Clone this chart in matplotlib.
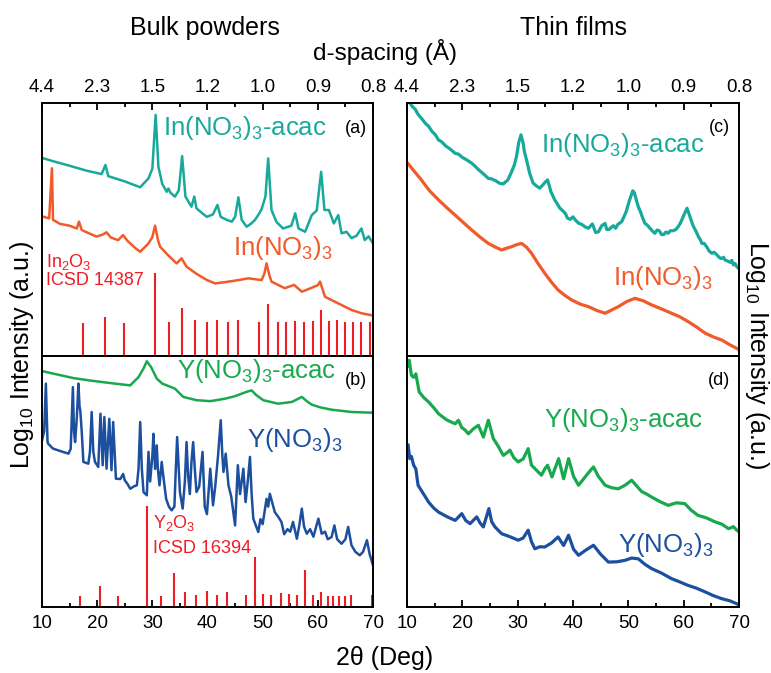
import matplotlib
matplotlib.use('Agg')
import matplotlib.pyplot as plt
from matplotlib.ticker import MultipleLocator, FixedLocator

plt.rcParams['font.family'] = ['Liberation Sans', 'DejaVu Sans']
plt.rcParams['mathtext.fontset'] = 'custom'
plt.rcParams['mathtext.rm'] = 'Liberation Sans'
plt.rcParams['mathtext.it'] = 'Liberation Sans:italic'
plt.rcParams['mathtext.default'] = 'regular'

# ---- data (2theta in deg, intensity in a.u. scaled to each panel) ----
# (a) bulk In(NO3)3-acac
tt_a_acac = [10.0, 12.0, 15.0, 18.0, 20.8, 21.5, 22.0, 25.0, 27.8, 29.3, 30.0, 30.6, 31.1, 31.8,
             32.6, 32.9, 33.3, 34.1, 34.8, 35.4, 36.0, 37.1, 37.6, 38.0, 39.0, 39.9, 41.0, 41.8,
             42.4, 43.5, 44.4, 45.0, 45.6, 46.2, 47.1, 48.0, 48.6, 49.2, 49.8, 50.5, 51.0, 51.6,
             52.5, 53.7, 55.2, 55.9, 56.5, 57.7, 58.9, 59.8, 60.6, 61.2, 62.0, 62.9, 63.7, 64.3,
             65.2, 66.1, 67.0, 67.9, 68.5, 69.2, 70.0]
I_a_acac = [78.3, 77.0, 75.2, 73.3, 71.9, 75.5, 71.1, 69.0, 66.7, 70.2, 74.0, 95.3, 74.8, 68.0,
            64.9, 66.2, 64.5, 63.0, 65.5, 79.0, 63.0, 59.0, 63.0, 58.4, 56.5, 55.0, 56.0, 59.7,
            55.0, 53.8, 53.1, 55.0, 62.7, 53.8, 51.1, 52.5, 53.8, 55.7, 58.0, 63.0, 78.1, 57.7,
            53.0, 50.4, 51.5, 56.4, 50.4, 49.1, 55.7, 57.5, 72.8, 57.7, 57.7, 52.4, 55.7, 48.5,
            49.1, 46.6, 47.5, 50.4, 45.8, 47.3, 44.5]

# (a) bulk In(NO3)3
tt_a_in = [10.0, 11.3, 11.8, 12.0, 13.3, 15.0, 16.3, 16.7, 17.2, 18.5, 19.9, 21.0, 21.7, 22.5,
           23.8, 24.7, 25.5, 27.0, 27.8, 29.3, 30.0, 30.5, 31.0, 31.4, 33.0, 34.4, 35.3, 36.2,
           38.0, 39.9, 41.4, 43.2, 45.6, 47.4, 49.8, 50.3, 50.7, 51.2, 51.6, 54.0, 55.7, 57.1,
           58.7, 60.0, 60.4, 61.3, 63.7, 66.1, 67.9, 70.0]
I_a_in = [55.2, 54.4, 74.2, 53.8, 52.2, 51.5, 50.4, 53.1, 49.8, 48.5, 47.2, 48.0, 48.9, 46.8,
          45.8, 47.8, 45.5, 42.5, 41.2, 44.5, 47.0, 51.5, 46.0, 43.2, 39.5, 36.6, 38.6, 35.3,
          32.5, 30.0, 28.7, 29.2, 30.0, 30.7, 30.0, 32.5, 36.6, 32.0, 29.4, 26.8, 28.1, 25.4,
          26.8, 28.0, 29.4, 23.4, 20.8, 18.2, 16.9, 16.0]

# In2O3 reference, ICSD 14387
tt_in2o3 = [17.5, 21.5, 24.9, 30.5, 33.1, 35.4, 37.7, 39.9, 41.8, 43.8, 45.6, 49.3, 51.0, 52.7,
            54.2, 55.9, 57.5, 59.1, 60.5, 62.1, 63.5, 64.9, 66.4, 67.9, 69.5]
h_in2o3 = [13.2, 15.3, 13.2, 32.7, 13.3, 18.8, 14.2, 13.3, 14.2, 13.3, 14.2, 13.3, 20.4, 13.6,
           13.3, 14.0, 13.3, 14.0, 18.2, 14.0, 14.2, 13.6, 13.6, 13.6, 13.6]

# (b) bulk Y(NO3)3-acac
tt_b_acac = [10.0, 12.0, 15.7, 18.5, 21.7, 24.0, 26.0, 27.5, 28.4, 29.0, 29.8, 30.8, 31.8, 32.6,
             34.1, 35.0, 35.6, 38.0, 40.5, 43.2, 45.0, 46.2, 47.2, 48.0, 48.8, 50.1, 52.8, 55.3,
             56.3, 57.1, 58.0, 58.9, 60.5, 62.5, 66.1, 70.0]
I_b_acac = [94.0, 93.0, 91.2, 90.3, 89.4, 88.8, 88.3, 91.6, 95.0, 97.9, 95.5, 91.0, 89.0, 88.3,
            87.0, 85.0, 83.7, 82.4, 82.0, 83.0, 84.0, 85.0, 85.8, 86.3, 84.5, 82.4, 81.0, 81.7,
            82.8, 83.7, 82.0, 80.6, 79.5, 78.6, 77.7, 77.4]

# (b) bulk Y(NO3)3
tt_b_y = [10.0, 10.4, 10.7, 11.0, 11.1, 12.0, 13.5, 14.8, 15.2, 15.6, 15.8, 16.0, 16.3, 16.6,
          16.8, 16.95, 17.2, 17.5, 18.4, 18.7, 19.0, 19.3, 19.6, 20.2, 20.6, 21.0, 21.3, 21.7,
          22.2, 22.6, 22.9, 23.4, 24.2, 24.7, 25.0, 25.5, 26.0, 26.6, 27.2, 27.5, 27.8, 28.1,
          28.4, 29.0, 29.3, 29.6, 30.0, 30.2, 30.5, 30.8, 31.0, 31.3, 31.7, 32.0, 32.5, 33.0,
          33.5, 34.0, 34.2, 34.5, 34.8, 35.0, 35.5, 35.9, 36.2, 36.5, 36.8, 37.1, 37.4, 37.7,
          38.0, 38.5, 39.1, 39.5, 39.9, 40.5, 41.0, 41.4, 41.9, 42.4, 42.7, 42.9, 43.3, 43.8,
          44.3, 45.0, 45.5, 45.9, 46.5, 46.9, 47.3, 47.7, 48.0, 48.3, 49.2, 49.6, 50.0, 50.7,
          51.0, 51.3, 52.2, 52.8, 53.4, 53.9, 54.5, 55.0, 55.5, 56.2, 56.6, 57.1, 57.5, 58.0,
          58.6, 59.2, 60.1, 60.7, 61.3, 61.8, 62.5, 63.0, 63.5, 64.3, 65.0, 65.5, 66.1, 66.8,
          67.6, 68.2, 68.9, 69.4, 70.0]
I_b_y = [66.4, 70.0, 89.0, 66.0, 65.1, 63.1, 62.0, 61.1, 63.0, 87.6, 70.0, 65.7, 75.0, 89.0,
         80.0, 78.0, 70.0, 57.8, 57.1, 62.0, 77.7, 62.0, 57.8, 55.8, 77.0, 56.5, 75.7, 55.1,
         75.0, 54.5, 73.7, 51.1, 51.0, 53.0, 50.5, 49.0, 47.1, 48.0, 48.5, 55.0, 73.7, 55.0,
         45.8, 44.5, 61.8, 50.0, 60.0, 69.0, 55.0, 64.4, 55.0, 48.5, 57.8, 52.0, 43.1, 40.0,
         38.5, 40.0, 52.0, 67.7, 55.0, 45.8, 39.2, 50.0, 65.7, 52.0, 45.0, 58.0, 65.7, 55.0,
         45.8, 48.0, 61.8, 40.0, 37.0, 55.1, 40.5, 48.0, 60.0, 74.4, 60.0, 53.8, 61.1, 48.5,
         44.0, 32.5, 56.5, 45.0, 55.1, 41.8, 50.0, 59.8, 45.0, 35.2, 29.9, 35.0, 33.0, 43.1,
         40.0, 45.1, 37.8, 36.0, 33.9, 29.0, 31.0, 30.0, 33.9, 27.2, 32.0, 39.2, 32.0, 29.2,
         31.0, 28.0, 35.2, 29.2, 30.0, 27.0, 27.9, 32.5, 27.0, 25.2, 27.0, 31.9, 24.6, 22.0,
         20.6, 22.0, 26.6, 21.0, 16.6]

# Y2O3 reference, ICSD 16394
tt_y2o3 = [16.8, 20.5, 23.7, 29.0, 31.6, 33.9, 35.9, 37.9, 39.9, 41.7, 43.5, 47.0, 48.7, 50.1,
           51.6, 53.3, 54.7, 56.2, 57.7, 59.2, 60.6, 61.8, 62.8, 63.9, 64.9, 66.0, 69.8]
h_y2o3 = [4.4, 8.5, 4.4, 40.4, 4.5, 13.7, 6.1, 4.8, 6.5, 4.8, 6.1, 4.8, 19.8, 5.2, 4.8, 5.4,
          5.2, 4.8, 14.7, 4.8, 6.1, 4.4, 4.4, 4.4, 4.4, 4.8, 4.8]

# (c) thin film In(NO3)3-acac
tt_c_acac = [10.2, 11.0, 11.5, 12.0, 12.6, 13.3, 13.9, 14.5, 15.1, 15.7, 16.3, 17.0, 17.8, 18.7,
             19.3, 20.0, 20.8, 21.7, 22.3, 23.0, 23.8, 24.7, 25.3, 26.0, 26.7, 27.4, 27.8, 28.2,
             28.9, 29.4, 29.8, 30.2, 30.6, 31.0, 31.2, 31.6, 32.2, 32.8, 33.4, 34.0, 34.7, 35.1,
             35.4, 35.7, 36.0, 36.7, 37.2, 37.6, 38.1, 38.6, 39.0, 39.5, 40.0, 40.4, 41.0, 41.6,
             42.2, 42.8, 43.5, 44.1, 44.6, 45.2, 45.8, 46.1, 46.5, 47.0, 47.3, 47.7, 48.1, 48.8,
             49.2, 49.6, 50.2, 50.8, 51.1, 51.4, 51.8, 52.2, 52.6, 53.0, 53.4, 53.9, 54.3, 54.8,
             55.2, 55.6, 56.0, 56.4, 56.8, 57.2, 57.6, 58.1, 58.6, 59.0, 59.4, 59.8, 60.2, 60.6,
             61.0, 61.3, 61.7, 62.1, 62.4, 62.7, 63.0, 63.3, 63.7, 64.2, 64.6, 65.1, 65.5, 66.0,
             66.4, 66.8, 67.2, 67.5, 68.0, 68.4, 68.7, 69.0, 69.3, 69.6, 70.0]
I_c_acac = [101.0, 98.5, 97.5, 95.5, 94.0, 92.0, 90.8, 88.8, 87.5, 85.4, 84.6, 83.0, 81.8, 80.1,
            79.8, 78.5, 77.5, 76.2, 75.0, 73.5, 72.0, 70.2, 70.0, 69.3, 68.3, 68.0, 68.8, 69.5,
            72.8, 75.5, 79.0, 84.5, 87.4, 84.0, 81.0, 77.5, 72.0, 68.3, 67.2, 66.3, 68.0, 69.0,
            69.6, 67.5, 65.0, 61.7, 60.0, 58.5, 57.5, 56.4, 54.5, 54.0, 55.0, 53.8, 52.5, 52.0,
            51.0, 50.5, 52.2, 48.8, 49.1, 51.5, 52.4, 50.0, 50.0, 51.0, 51.5, 50.5, 52.0, 53.1,
            55.0, 57.0, 61.5, 65.3, 64.5, 62.0, 59.0, 57.0, 54.5, 52.4, 51.8, 50.5, 49.5, 48.5,
            49.8, 49.5, 48.0, 48.0, 49.0, 48.5, 49.5, 49.5, 50.0, 51.1, 52.5, 54.5, 56.5, 58.4,
            56.0, 54.0, 51.5, 49.8, 48.5, 47.0, 46.0, 44.5, 44.5, 43.0, 41.5, 40.6, 41.0, 40.0,
            39.0, 38.5, 39.0, 37.9, 37.5, 37.0, 37.8, 36.0, 36.5, 35.3, 34.5]

# (c) thin film In(NO3)3
tt_c_in = [10.2, 11.5, 12.6, 14.0, 15.7, 17.2, 18.7, 20.2, 21.7, 23.2, 24.7, 26.0, 27.1, 28.0,
           28.9, 29.8, 30.7, 31.6, 32.5, 33.7, 34.9, 36.1, 37.3, 38.5, 39.8, 41.3, 42.8, 44.3,
           45.8, 47.0, 48.2, 49.7, 51.2, 52.7, 54.2, 56.0, 57.8, 59.3, 60.8, 62.3, 63.9, 65.4,
           66.9, 68.3, 69.6, 70.0]
I_c_in = [76.0, 72.5, 69.6, 65.5, 61.7, 58.6, 55.7, 52.7, 49.8, 47.0, 44.5, 43.0, 41.9, 42.6,
          43.2, 44.0, 44.5, 43.0, 40.6, 36.5, 32.7, 29.2, 26.1, 24.0, 22.1, 20.5, 19.5, 18.0,
          16.9, 18.2, 19.5, 21.5, 22.8, 21.8, 20.2, 18.6, 16.9, 15.5, 13.6, 11.5, 9.0, 7.5,
          6.3, 4.5, 3.0, 2.5]

# (d) thin film Y(NO3)3-acac
tt_d_acac = [10.2, 10.4, 10.8, 11.2, 11.6, 12.2, 13.0, 13.9, 14.8, 15.7, 17.2, 18.7, 19.3, 19.9,
             20.5, 21.1, 22.0, 22.9, 23.8, 24.7, 25.6, 26.5, 27.4, 28.1, 28.6, 29.3, 30.1, 31.0,
             31.9, 32.5, 33.4, 34.3, 34.9, 35.4, 36.2, 37.4, 38.3, 39.2, 40.1, 41.0, 41.9, 42.8,
             43.7, 44.6, 45.8, 47.0, 48.2, 49.4, 50.6, 51.4, 52.4, 53.3, 54.2, 55.7, 57.2, 58.7,
             60.2, 61.4, 62.6, 64.1, 65.7, 66.9, 68.1, 69.0, 69.6, 70.0]
I_d_acac = [96.0, 98.3, 92.3, 91.5, 92.9, 85.7, 83.5, 81.7, 79.5, 77.0, 74.5, 73.0, 74.4, 71.5,
            70.5, 69.0, 71.0, 72.4, 67.7, 74.4, 67.1, 64.0, 60.4, 61.5, 62.5, 59.5, 57.8, 59.0,
            63.1, 56.5, 54.5, 52.5, 55.0, 56.5, 51.8, 59.1, 51.1, 59.1, 52.0, 48.5, 51.0, 53.5,
            55.8, 52.0, 48.5, 47.5, 47.1, 48.5, 50.5, 48.5, 46.0, 45.0, 43.8, 42.0, 40.5, 41.5,
            41.2, 38.5, 36.5, 35.5, 33.9, 33.0, 31.2, 32.0, 30.6, 30.0]

# (d) thin film Y(NO3)3
tt_d_y = [10.2, 10.5, 10.8, 11.2, 11.6, 12.0, 13.0, 13.9, 14.8, 15.7, 17.2, 18.7, 19.9, 20.6,
          21.4, 22.6, 23.2, 23.8, 24.8, 25.3, 25.9, 27.1, 28.6, 30.1, 31.0, 31.9, 32.5, 33.1,
          34.0, 34.9, 36.1, 37.3, 38.3, 39.2, 40.1, 41.0, 42.2, 43.7, 45.0, 46.4, 47.9, 49.4,
          50.6, 51.8, 53.0, 54.2, 56.0, 57.8, 59.3, 60.8, 62.3, 63.9, 65.4, 66.9, 68.3, 69.6, 70.0]
I_d_y = [64.5, 59.1, 60.0, 56.5, 55.0, 48.5, 45.0, 41.8, 39.5, 37.8, 36.0, 34.5, 37.2, 34.5,
         33.2, 35.9, 33.5, 31.9, 39.2, 34.0, 31.9, 29.2, 28.0, 26.6, 27.5, 30.6, 26.0, 23.2,
         24.0, 23.9, 25.5, 27.9, 24.5, 28.6, 23.0, 20.6, 22.5, 24.6, 21.0, 17.9, 18.0, 18.6,
         19.5, 19.2, 17.0, 15.3, 13.5, 11.3, 10.0, 8.6, 7.5, 6.0, 4.5, 3.3, 2.5, 1.3, 0.8]

two_theta_ticks = [10, 20, 30, 40, 50, 60, 70]
d_labels = ['4.4', '2.3', '1.5', '1.2', '1.0', '0.9', '0.8']

teal = '#17a99b'
orange = '#f15a29'
red = '#ee1c25'
green = '#18a94e'
blue = '#1d4f9f'

fig = plt.figure(figsize=(7.71, 6.73), dpi=100)
W, H = 771, 673

def make_ax(x0, x1, ytop, ybot):
    return fig.add_axes([x0 / W, (H - ybot) / H, (x1 - x0) / W, (ybot - ytop) / H])

ax_a = make_ax(42, 373, 103, 356)
ax_b = make_ax(42, 373, 356, 607)
ax_c = make_ax(407, 739, 103, 356)
ax_d = make_ax(407, 739, 356, 607)

for ax in (ax_a, ax_b, ax_c, ax_d):
    ax.set_xlim(10, 70)
    ax.set_ylim(0, 100)
    ax.set_yticks([])
    ax.xaxis.set_major_locator(FixedLocator(two_theta_ticks))
    ax.xaxis.set_minor_locator(MultipleLocator(5))
    for s in ax.spines.values():
        s.set_linewidth(1.4)

for ax in (ax_a, ax_c):
    ax.tick_params(axis='x', which='both', direction='in', top=True, bottom=False,
                   labeltop=True, labelbottom=False, labelsize=13.5, width=1.3, pad=5)
    ax.tick_params(axis='x', which='major', length=5)
    ax.tick_params(axis='x', which='minor', length=3)
    ax.set_xticklabels(d_labels)

for ax in (ax_b, ax_d):
    ax.tick_params(axis='x', which='both', direction='in', top=False, bottom=True,
                   labelsize=13.5, width=1.3, pad=6)
    ax.tick_params(axis='x', which='major', length=5)
    ax.tick_params(axis='x', which='minor', length=3)
    ax.set_xticklabels([str(t) for t in two_theta_ticks])

# (a)
ax_a.plot(tt_a_acac, I_a_acac, color=teal, lw=1.8)
ax_a.plot(tt_a_in, I_a_in, color=orange, lw=1.8)
ax_a.vlines(tt_in2o3, 0, h_in2o3, color=red, lw=1.5)
ax_a.text(31.9, 87.4, 'In(NO$_3$)$_3$-acac', color=teal, fontsize=18.5, va='baseline')
ax_a.text(44.7, 39.9, 'In(NO$_3$)$_3$', color=orange, fontsize=18.5, va='baseline')
ax_a.text(10.8, 35.0, 'In$_2$O$_3$', color=red, fontsize=13, va='baseline')
ax_a.text(10.8, 28.1, 'ICSD 14387', color=red, fontsize=13, va='baseline')
ax_a.text(0.982, 0.88, '(a)', transform=ax_a.transAxes, ha='right', va='baseline', fontsize=13)

# (b)
ax_b.plot(tt_b_acac, I_b_acac, color=green, lw=1.8)
ax_b.plot(tt_b_y, I_b_y, color=blue, lw=1.8)
ax_b.vlines(tt_y2o3, 0, h_y2o3, color=red, lw=1.5)
ax_b.text(34.4, 91.1, 'Y(NO$_3$)$_3$-acac', color=green, fontsize=18.5, va='baseline')
ax_b.text(47.1, 63.6, 'Y(NO$_3$)$_3$', color=blue, fontsize=18.5, va='baseline')
ax_b.text(30.2, 31.4, 'Y$_2$O$_3$', color=red, fontsize=13, va='baseline')
ax_b.text(30.2, 21.4, 'ICSD 16394', color=red, fontsize=13, va='baseline')
ax_b.text(0.981, 0.884, '(b)', transform=ax_b.transAxes, ha='right', va='baseline', fontsize=13)

# (c)
ax_c.plot(tt_c_acac, I_c_acac, color=teal, lw=2.3)
ax_c.plot(tt_c_in, I_c_in, color=orange, lw=2.3)
ax_c.text(34.3, 80.8, 'In(NO$_3$)$_3$-acac', color=teal, fontsize=18.5, va='baseline')
ax_c.text(47.3, 28.1, 'In(NO$_3$)$_3$', color=orange, fontsize=18.5, va='baseline')
ax_c.text(0.973, 0.887, '(c)', transform=ax_c.transAxes, ha='right', va='baseline', fontsize=13)

# (d)
ax_d.plot(tt_d_acac, I_d_acac, color=green, lw=2.3)
ax_d.plot(tt_d_y, I_d_y, color=blue, lw=2.3)
ax_d.text(34.8, 71.7, 'Y(NO$_3$)$_3$-acac', color=green, fontsize=18.5, va='baseline')
ax_d.text(48.1, 21.9, 'Y(NO$_3$)$_3$', color=blue, fontsize=18.5, va='baseline')
ax_d.text(0.973, 0.883, '(d)', transform=ax_d.transAxes, ha='right', va='baseline', fontsize=13)

# figure-level labels
fig.text(205 / W, 1 - 28 / H, 'Bulk powders', ha='center', va='center', fontsize=18)
fig.text(573 / W, 1 - 28 / H, 'Thin films', ha='center', va='center', fontsize=18)
fig.text(385 / W, 1 - 52 / H, 'd-spacing (Å)', ha='center', va='center', fontsize=17.5)
fig.text(385 / W, 1 - 658 / H, '2θ (Deg)', ha='center', va='center', fontsize=18)
fig.text(22 / W, 1 - 355 / H, 'Log$_{10}$ Intensity (a.u.)', ha='center', va='center',
         rotation=90, fontsize=18)
fig.text(757 / W, 1 - 355 / H, 'Log$_{10}$ Intensity (a.u.)', ha='center', va='center',
         rotation=-90, fontsize=18)

fig.savefig('out.png', dpi=100)
